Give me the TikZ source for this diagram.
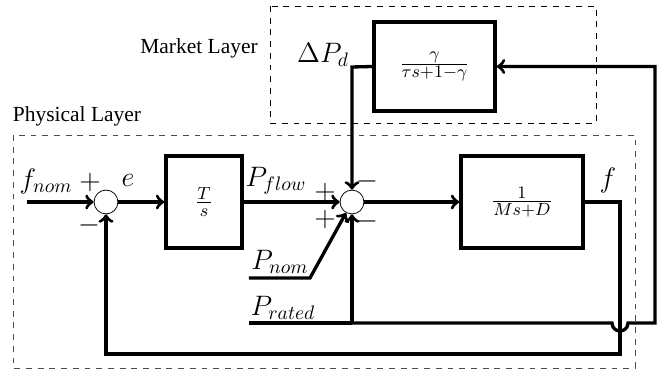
\documentclass[tikz,border=0pt]{standalone}
\usepackage{amsmath}
\usepackage[no-math]{fontspec}
\setmainfont{Liberation Serif}
\usepackage{tikz}
\usetikzlibrary{calc, positioning}

\begin{document}
\begin{tikzpicture}[x=0.018cm, y=-0.018cm,
    blk/.style={draw, line width=1.7pt, minimum height=1.66cm, inner sep=0pt, font=\fontsize{12.7}{14}\selectfont},
    sumnode/.style={draw, circle, thin, minimum size=0.43cm, inner sep=0pt},
    sig/.style={line width=1.7pt},
    lbl/.style={font=\fontsize{14}{16}\selectfont},
    layer/.style={dashed, thin},
    layerlbl/.style={font=\fontsize{11}{13}\selectfont}]

    % Frame of the picture
    \useasboundingbox (0,0) rectangle (664,372);

    % Layers
    \draw[layer] (270,6) rectangle (596,123);
    \draw[layer, black!70] (13,135) rectangle (635,368);
    \node[layerlbl] (mktlbl) at (199,48) {Market Layer};
    \node[layerlbl] (phylbl) at (77,116) {Physical Layer};

    % Blocks and summing junctions
    \node[sumnode] (sumA) at (106,202) {};
    \node[blk, minimum width=1.37cm] (ctrl) at (204,202) {$\frac{T}{s}$};
    \node[sumnode] (sumB) at (352,202) {};
    \node[blk, minimum width=2.2cm] (plant) at (522,202) {$\frac{1}{Ms+D}$};
    \node[blk, minimum width=2.18cm, minimum height=1.6cm] (mkt) at (434.5,66.5) {$\frac{\gamma}{\tau s+1-\gamma}$};

    % Corners of the signal lines
    \coordinate (fnomin) at (27,202);
    \coordinate (fcorner) at (620,202);
    \coordinate (fbot) at (620,354);
    \coordinate (pnomin) at (249,278);
    \coordinate (pnomkink) at (310,278);
    \coordinate (pratin) at (249,323);
    \coordinate (split) at (352,323);
    \coordinate (jumpL) at (612,323);
    \coordinate (retcorner) at (655,323);
    \coordinate (mktout) at (352,67);

    % Signals
    \draw[sig,->] (fnomin) -- (sumA);
    \draw[sig,->] (sumA) -- (ctrl);
    \draw[sig,->] (ctrl) -- (sumB);
    \draw[sig,->] (sumB) -- (plant);
    \draw[sig,->] (plant.east) -- (fcorner) -- (fbot) -| (sumA.south);
    \draw[sig,->] (pnomin) -- (pnomkink) -- (sumB);
    \draw[sig] (pratin) -- (split);
    \draw[sig,->] (split) -- (sumB.south);
    % jump over the frequency feedback
    \draw[sig,->] (split) -- (jumpL) arc[start angle=180, end angle=360, radius=0.144cm]
        -- (retcorner) |- (mkt.east);
    \draw[sig,->] (mkt.west) -- (mktout) -- (sumB.north);

    % Signal names
    \node[lbl] (fnomlbl) at (46,181) {$f_{nom}$};
    \node[lbl] (elbl) at (128,180) {$e$};
    \node[lbl] (pflowlbl) at (276,181) {$P_{flow}$};
    \node[lbl] (pnomlbl) at (280,262) {$P_{nom}$};
    \node[lbl] (pratlbl) at (283,308) {$P_{rated}$};
    \node[lbl] (flbl) at (608,180) {$f$};
    \node[lbl] (dpdlbl) at (323,55) {$\Delta P_d$};

    % Signs at the junctions
    \node[lbl] (sA1) at (90,182) {$+$};
    \node[lbl] (sA2) at (89,225) {$-$};
    \node[lbl] (sB1) at (325,192) {$+$};
    \node[lbl] (sB2) at (325,219) {$+$};
    \node[lbl] (sB3) at (367,181) {$-$};
    \node[lbl] (sB4) at (367,221) {$-$};

\end{tikzpicture}
\end{document}
